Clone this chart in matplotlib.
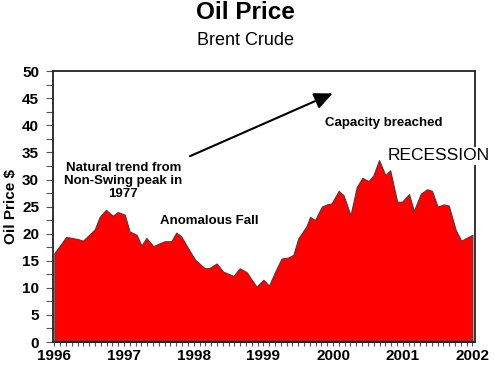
import matplotlib.pyplot as plt
from matplotlib.ticker import MultipleLocator

plt.rcParams['font.family'] = ['Liberation Sans', 'DejaVu Sans']

# Brent crude (decimal year, $ per barrel)
years = [1996.00, 1996.17, 1996.34, 1996.41, 1996.50, 1996.58, 1996.65, 1996.74,
         1996.84, 1996.91, 1997.01, 1997.08, 1997.18, 1997.25, 1997.32, 1997.42,
         1997.49, 1997.58, 1997.68, 1997.75, 1997.82, 1997.92, 1998.02, 1998.16,
         1998.23, 1998.33, 1998.42, 1998.57, 1998.66, 1998.76, 1998.90, 1999.00,
         1999.08, 1999.17, 1999.26, 1999.36, 1999.43, 1999.50, 1999.62, 1999.67,
         1999.74, 1999.84, 1999.91, 1999.98, 2000.08, 2000.15, 2000.25, 2000.34,
         2000.42, 2000.51, 2000.58, 2000.66, 2000.75, 2000.82, 2000.92, 2000.99,
         2001.09, 2001.16, 2001.26, 2001.35, 2001.42, 2001.50, 2001.59, 2001.66,
         2001.76, 2001.84, 2002.00]
prices = [16.4, 19.4, 19.0, 18.7, 19.8, 20.8, 23.1, 24.4,
          23.3, 24.0, 23.5, 20.4, 19.8, 17.8, 19.2, 17.7,
          18.1, 18.6, 18.6, 20.2, 19.5, 17.3, 15.2, 13.6,
          13.7, 14.5, 13.0, 12.2, 13.6, 12.9, 10.2, 11.5,
          10.4, 13.0, 15.4, 15.6, 16.1, 19.1, 21.4, 23.1,
          22.5, 25.0, 25.4, 25.6, 27.9, 27.1, 23.4, 28.6,
          30.3, 29.7, 30.8, 33.6, 30.8, 31.7, 25.9, 25.9,
          27.3, 24.2, 27.4, 28.2, 27.9, 25.0, 25.4, 25.2,
          20.7, 18.7, 19.8]

year_ticks = [1996, 1997, 1998, 1999, 2000, 2001, 2002]

fig = plt.figure(figsize=(4.95, 3.65), dpi=100)
ax = fig.add_axes([0.107, 0.063, 0.853, 0.742])

# Filled area
ax.fill_between(years, prices, 0, facecolor='#ff0000', edgecolor='#404040', linewidth=0.8)

ax.set_xlim(1995.98, 2002.04)
ax.set_ylim(0, 50)
ax.set_xticks(year_ticks)
ax.xaxis.set_minor_locator(MultipleLocator(1 / 12))
ax.yaxis.set_major_locator(MultipleLocator(5))
ax.yaxis.set_minor_locator(MultipleLocator(2.5))
ax.tick_params(which='both', direction='out', width=0.8, color='#555555')
ax.tick_params(axis='x', which='both', length=3, labelsize=11, pad=2)
ax.tick_params(axis='y', which='both', length=5, labelsize=11, pad=5)
for lab in ax.get_xticklabels() + ax.get_yticklabels():
    lab.set_fontweight('bold')
for s in ax.spines.values():
    s.set_linewidth(1.3)
    s.set_color('#222222')

ax.set_ylabel('Oil Price $', fontsize=11, fontweight='bold', labelpad=3)

# Titles
fig.text(0.495, 0.965, 'Oil Price', ha='center', va='center', fontsize=17.5, fontweight='bold')
fig.text(0.495, 0.89, 'Brent Crude', ha='center', va='center', fontsize=13)

# Annotations
ax.text(1996.99, 29.7, 'Natural trend from\nNon-Swing peak in\n1977', ha='center', va='center',
        fontsize=9.5, fontweight='bold', linespacing=1.1)
ax.text(1998.23, 22.4, 'Anomalous Fall', ha='center', va='center', fontsize=9.5, fontweight='bold')
ax.text(2000.73, 40.4, 'Capacity breached', ha='center', va='center', fontsize=9.5, fontweight='bold')
ax.text(2001.51, 34.4, 'RECESSION', ha='center', va='center', fontsize=12.5, clip_on=False, zorder=5,
        bbox=dict(facecolor='white', edgecolor='none', pad=1))
ax.annotate('', xy=(2000.03, 46.1), xytext=(1997.91, 34.1),
            arrowprops=dict(arrowstyle='-|>,head_length=1.1,head_width=0.5', color='black', lw=1.5))

fig.savefig('out.png', dpi=100)
